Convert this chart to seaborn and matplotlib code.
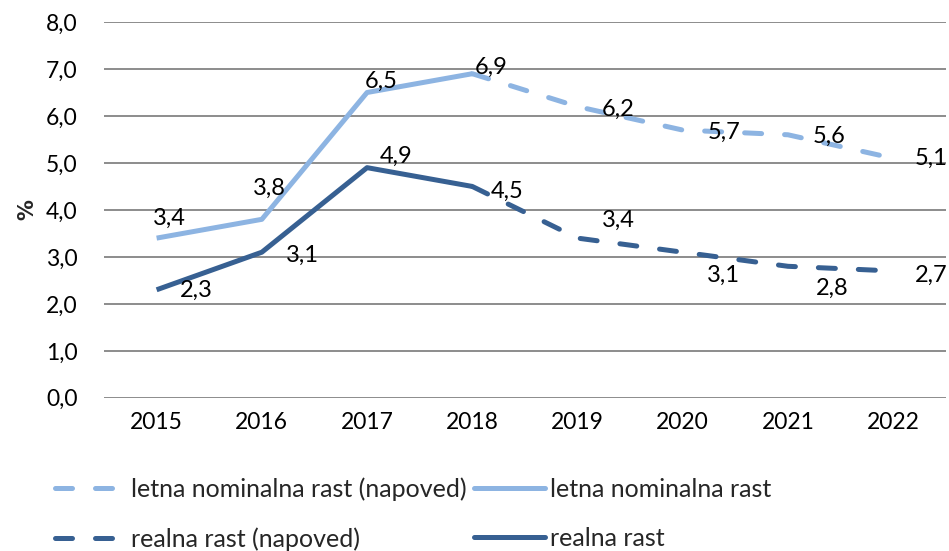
import matplotlib
matplotlib.use("Agg")
import matplotlib.pyplot as plt
import seaborn as sns
import pandas as pd
from matplotlib.lines import Line2D

# data
years = [2015, 2016, 2017, 2018, 2019, 2020, 2021, 2022]
nominal = [3.4, 3.8, 6.5, 6.9, 6.2, 5.7, 5.6, 5.1]
real = [2.3, 3.1, 4.9, 4.5, 3.4, 3.1, 2.8, 2.7]
last_actual = 2018  # forecasts start from this year
y_ticks = [0, 1, 2, 3, 4, 5, 6, 7, 8]

# label offsets in pixels (dx, dy) -- matplotlib y goes up
nominal_offsets = [(13, 20), (8, 31), (14, 11), (19, 6), (41, -3), (41, -2), (41, -2), (38, 0)]
real_offsets = [(40, -1), (41, -3), (29, 11), (35, -5), (41, 18), (41, -23), (44, -22), (38, -4)]

LIGHT = "#8DB4E2"
DARK = "#376092"
DASH = (0, (3.4, 4.6))
FONT = "Lato"

sns.set_style("white")
plt.rcParams["font.family"] = [FONT, "DejaVu Sans"]
plt.rcParams["font.size"] = 16

df = pd.DataFrame({"year": years, "nominal": nominal, "real": real})
hist = df[df["year"] <= last_actual]
fcst = df[df["year"] >= last_actual]

fig = plt.figure(figsize=(9.49, 5.51), dpi=100)
ax = fig.add_axes([0.1096, 0.278, 0.887, 0.682])

lw = 3.6
for col, color in [("nominal", LIGHT), ("real", DARK)]:
    sns.lineplot(data=hist, x="year", y=col, ax=ax, color=color, lw=lw,
                 solid_capstyle="butt", solid_joinstyle="round")
    sns.lineplot(data=fcst, x="year", y=col, ax=ax, color=color, lw=lw,
                 linestyle=DASH, dash_capstyle="round")

def fmt(v):
    return f"{v:.1f}".replace(".", ",")

for vals, offs in [(nominal, nominal_offsets), (real, real_offsets)]:
    for x, v, (dx, dy) in zip(years, vals, offs):
        ax.annotate(fmt(v), (x, v), xytext=(dx, dy), textcoords="offset pixels",
                    ha="center", va="center", fontsize=17, color="black")

ax.set_xlim(2014.5, 2022.5)
ax.set_ylim(0, 8)
ax.set_xticks(years)
ax.set_xticklabels([str(y) for y in years])
ax.set_yticks(y_ticks)
ax.set_yticklabels([fmt(t) for t in y_ticks])
ax.yaxis.grid(True, color="#8C8C8C", lw=1.4)
ax.set_axisbelow(True)
for s in ax.spines.values():
    s.set_visible(False)
ax.tick_params(axis="both", length=0, labelsize=16.5, colors="black")
ax.tick_params(axis="x", pad=10)
ax.tick_params(axis="y", pad=19)
ax.set_xlabel("")
ax.set_ylabel("%", fontweight="bold", fontsize=15, family=["DejaVu Sans"], labelpad=6)

handles = [
    Line2D([], [], color=LIGHT, lw=lw, linestyle=DASH, dash_capstyle="round"),
    Line2D([], [], color=DARK, lw=lw, linestyle=DASH, dash_capstyle="round"),
    Line2D([], [], color=LIGHT, lw=lw, solid_capstyle="round"),
    Line2D([], [], color=DARK, lw=lw, solid_capstyle="round"),
]
labels = ["letna nominalna rast (napoved)", "realna rast (napoved)",
          "letna nominalna rast", "realna rast"]
fig.legend(handles, labels, ncol=2, loc="lower left", bbox_to_anchor=(0.034, -0.04),
           frameon=False, fontsize=18, handlelength=2.85, handletextpad=0.2,
           columnspacing=0.3, labelspacing=1.04)

fig.savefig("out.png", dpi=100)
